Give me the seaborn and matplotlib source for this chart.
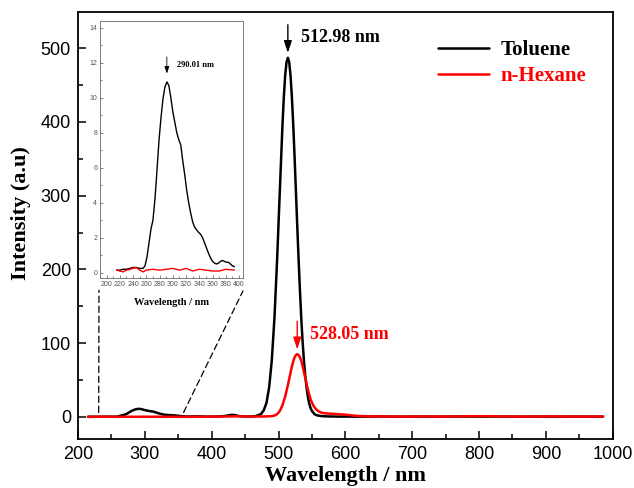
import numpy as np
import pandas as pd
import matplotlib
matplotlib.use("Agg")
import matplotlib.pyplot as plt
import seaborn as sns
from matplotlib.patches import ConnectionPatch
from matplotlib.ticker import MultipleLocator

# ---------------- data ----------------
tol_nm = [215, 220, 225, 230, 235, 240, 245, 250, 255, 258, 261, 264, 267, 270, 273,
          276, 279, 282, 285, 288, 291, 294, 297, 300, 303, 306, 309, 312, 315, 318,
          321, 324, 327, 330, 333, 336, 339, 342, 345, 348, 351, 354, 357, 360, 363,
          366, 369, 372, 375, 378, 381, 384, 387, 390, 393,
          400, 410, 420, 425, 430, 435, 440, 450, 460, 466, 470, 474, 478, 482, 486,
          490, 494, 498, 502, 506, 508, 510, 512, 514, 516, 518, 520, 522, 524, 526,
          528, 530, 532, 534, 536, 538, 540, 542, 544, 546, 548, 550, 554, 558, 565,
          575, 590, 600, 620, 650, 680, 710, 740, 770, 800, 830, 860, 890, 920, 950, 985]
tol_int = [0.15, 0.15, 0.2, 0.2, 0.25, 0.3, 0.3, 0.25, 0.25, 0.4, 0.9, 1.7, 2.5, 3.0, 4.2,
           5.8, 7.5, 8.8, 9.9, 10.6, 10.9, 10.7, 10.0, 9.2, 8.6, 8.0, 7.6, 7.3, 6.4, 5.6,
           4.7, 4.0, 3.4, 2.9, 2.6, 2.45, 2.3, 2.2, 2.0, 1.7, 1.4, 1.1, 0.85, 0.65, 0.55,
           0.5, 0.55, 0.65, 0.7, 0.65, 0.6, 0.6, 0.5, 0.4, 0.35,
           0.4, 0.6, 1.2, 2.0, 2.8, 2.4, 1.2, 0.5, 0.6, 1.2, 2.5, 4, 9, 19, 40,
           77, 135, 215, 307, 397, 434, 463, 481, 487, 481, 463, 434, 397, 354, 307,
           260, 215, 173, 135, 103, 77, 56, 40, 27, 18, 12, 8, 3.5, 2, 1,
           0.6, 0.4, 0.4, 0.3, 0.5, 0.3, 0.4, 0.3, 0.5, 0.3, 0.4, 0.3, 0.4, 0.3, 0.4, 0.3]

hex_nm = [215, 220, 225, 230, 240, 245, 250, 255, 260, 270, 280, 290, 300, 310, 320,
          330, 340, 350, 360, 370, 380, 393,
          400, 420, 440, 460, 480, 490, 494, 498, 502, 506, 510, 514, 518, 520, 522,
          524, 526, 528, 530, 532, 534, 536, 538, 540, 542, 544, 546, 548, 550, 553,
          556, 560, 565, 570, 580, 590, 600, 610, 620, 640, 660, 690, 720, 750, 780,
          810, 840, 870, 900, 930, 960, 986]
hex_int = [0.15, 0.1, 0.05, 0.15, 0.25, 0.3, 0.15, 0.05, 0.15, 0.2, 0.15, 0.2, 0.25, 0.15, 0.25,
           0.1, 0.2, 0.15, 0.1, 0.1, 0.2, 0.15,
           0.3, 0.5, 0.8, 0.4, 0.6, 1.0, 1.8, 3.7, 8.0, 16, 27.6, 42.9, 60, 68.2, 75,
           80.6, 83.8, 85, 84, 81, 76, 69, 61, 53, 45, 37, 30, 24, 19.5, 14,
           10.5, 7.5, 5.5, 4.8, 4.2, 3.6, 3.0, 2.0, 1.2, 0.6, 0.5, 0.4, 0.6, 0.4, 0.7,
           0.9, 0.5, 0.4, 0.6, 0.5, 0.4, 0.5]

series_names = ["Toluene", "n-Hexane"]
series_colors = ["#000000", "#ff0000"]
peak_labels = ["512.98 nm", "528.05 nm"]
inset_peak_label = "290.01 nm"
inset_max_nm = 393
zoom_nm = [231, 358]      # main-axis wavelengths joined to the inset by dashed lines
zoom_floor = 6            # intensity where the dashed lines end

df = pd.concat([
    pd.DataFrame({"nm": tol_nm, "I": tol_int, "solvent": series_names[0]}),
    pd.DataFrame({"nm": hex_nm, "I": hex_int, "solvent": series_names[1]}),
])

# ---------------- style ----------------
sns.set_style("ticks")
plt.rcParams["font.family"] = ["Liberation Sans", "DejaVu Sans"]
plt.rcParams["text.color"] = "black"
plt.rcParams["axes.labelcolor"] = "black"
plt.rcParams["xtick.color"] = "black"
plt.rcParams["ytick.color"] = "black"
SERIF = ["Liberation Serif", "DejaVu Serif"]

fig = plt.figure(figsize=(6.34, 4.88), dpi=100)
ax = fig.add_axes([0.123, 0.1004, 0.8434, 0.875])

for name, col in zip(series_names, series_colors):
    sub = df[df.solvent == name]
    sns.lineplot(data=sub, x="nm", y="I", ax=ax, color=col, lw=1.8,
                 estimator=None, sort=False, legend=False)

ax.set_xlim(200, 1000)
ax.set_ylim(-30, 549)
ax.xaxis.set_major_locator(MultipleLocator(100))
ax.xaxis.set_minor_locator(MultipleLocator(50))
ax.yaxis.set_major_locator(MultipleLocator(100))
ax.yaxis.set_minor_locator(MultipleLocator(50))
ax.tick_params(which="both", direction="in", top=False, right=False, width=1.1,
               colors="black")
ax.tick_params(which="major", length=6, labelsize=13, pad=5)
ax.tick_params(which="minor", length=3.5)
for s in ax.spines.values():
    s.set_linewidth(1.3)
    s.set_color("black")
ax.set_xlabel("Wavelength / nm", family=SERIF, weight="bold", fontsize=16, labelpad=2)
ax.set_ylabel("Intensity (a.u)", family=SERIF, weight="bold", fontsize=16, labelpad=7)
ax.yaxis.set_label_coords(-0.087, 0.53)

leg = ax.legend(ax.lines[:2], series_names, loc="upper left", bbox_to_anchor=(0.673, 0.934),
                frameon=False, prop=dict(family=SERIF, weight="bold", size=15),
                handlelength=2.45, handletextpad=0.55, labelspacing=0.3,
                borderpad=0, borderaxespad=0)
for t, c in zip(leg.get_texts(), series_colors):
    t.set_color(c)
for h in leg.get_lines():
    h.set_linewidth(1.8)

# peak annotations
for (nm, I), lab, col in zip([(tol_nm, tol_int), (hex_nm, hex_int)], peak_labels, series_colors):
    k = int(np.argmax(I))
    px, py = nm[k], I[k]
    ax.annotate("", xy=(px, py), xytext=(0, 33), textcoords="offset pixels",
                arrowprops=dict(arrowstyle="-|>,head_length=0.6,head_width=0.2",
                                color=col, lw=1.0, mutation_scale=12,
                                shrinkA=0, shrinkB=3.5))
    ax.annotate(lab, xy=(px, py), xytext=(13, 20), textcoords="offset pixels",
                ha="left", va="center", color=col, family=SERIF, weight="bold", fontsize=13)

# ---------------- inset ----------------
axin = fig.add_axes([0.1577, 0.4303, 0.2256, 0.5273])
axin.set_facecolor("white")
for name, col in zip(series_names, series_colors):
    sub = df[(df.solvent == name) & (df.nm <= inset_max_nm)]
    sns.lineplot(data=sub, x="nm", y="I", ax=axin, color=col, lw=1.0,
                 estimator=None, sort=False, legend=False)
axin.set_xlim(190, 406)
axin.set_ylim(-0.3, 14.4)
axin.xaxis.set_major_locator(MultipleLocator(20))
axin.xaxis.set_minor_locator(MultipleLocator(10))
axin.yaxis.set_major_locator(MultipleLocator(2))
axin.yaxis.set_minor_locator(MultipleLocator(1))
axin.tick_params(which="both", direction="in", top=False, right=False, width=0.5,
                 colors="#555555", labelsize=5, pad=2)
axin.tick_params(which="major", length=2.5)
axin.tick_params(which="minor", length=1.5)
for s in axin.spines.values():
    s.set_linewidth(0.6)
    s.set_color("#666666")
axin.set_xlabel("Wavelength / nm", family=SERIF, weight="bold", fontsize=7.5, labelpad=7,
                color="black")
axin.set_ylabel("")

sub = df[(df.solvent == series_names[0]) & (df.nm <= inset_max_nm)]
k = int(np.argmax(sub.I.values))
ipx, ipy = sub.nm.values[k], sub.I.values[k]
axin.annotate("", xy=(ipx, ipy), xytext=(0, 25), textcoords="offset pixels",
              arrowprops=dict(arrowstyle="-|>,head_length=0.6,head_width=0.2",
                              color="black", lw=0.6, mutation_scale=7,
                              shrinkA=0, shrinkB=6))
axin.annotate(inset_peak_label, xy=(ipx, ipy), xytext=(10, 17), textcoords="offset pixels",
              ha="left", va="center", family=SERIF, weight="bold", fontsize=6)

# dashed connector lines
for xa, xb, yb in [(zoom_nm[0], -0.007, -0.047), (zoom_nm[1], 1.0, -0.05)]:
    con = ConnectionPatch(xyA=(xa, zoom_floor), coordsA=ax.transData,
                          xyB=(xb, yb), coordsB=axin.transAxes,
                          color="black", lw=0.9, ls=(0, (5, 3)))
    fig.add_artist(con)

fig.savefig("out.png", dpi=100)
